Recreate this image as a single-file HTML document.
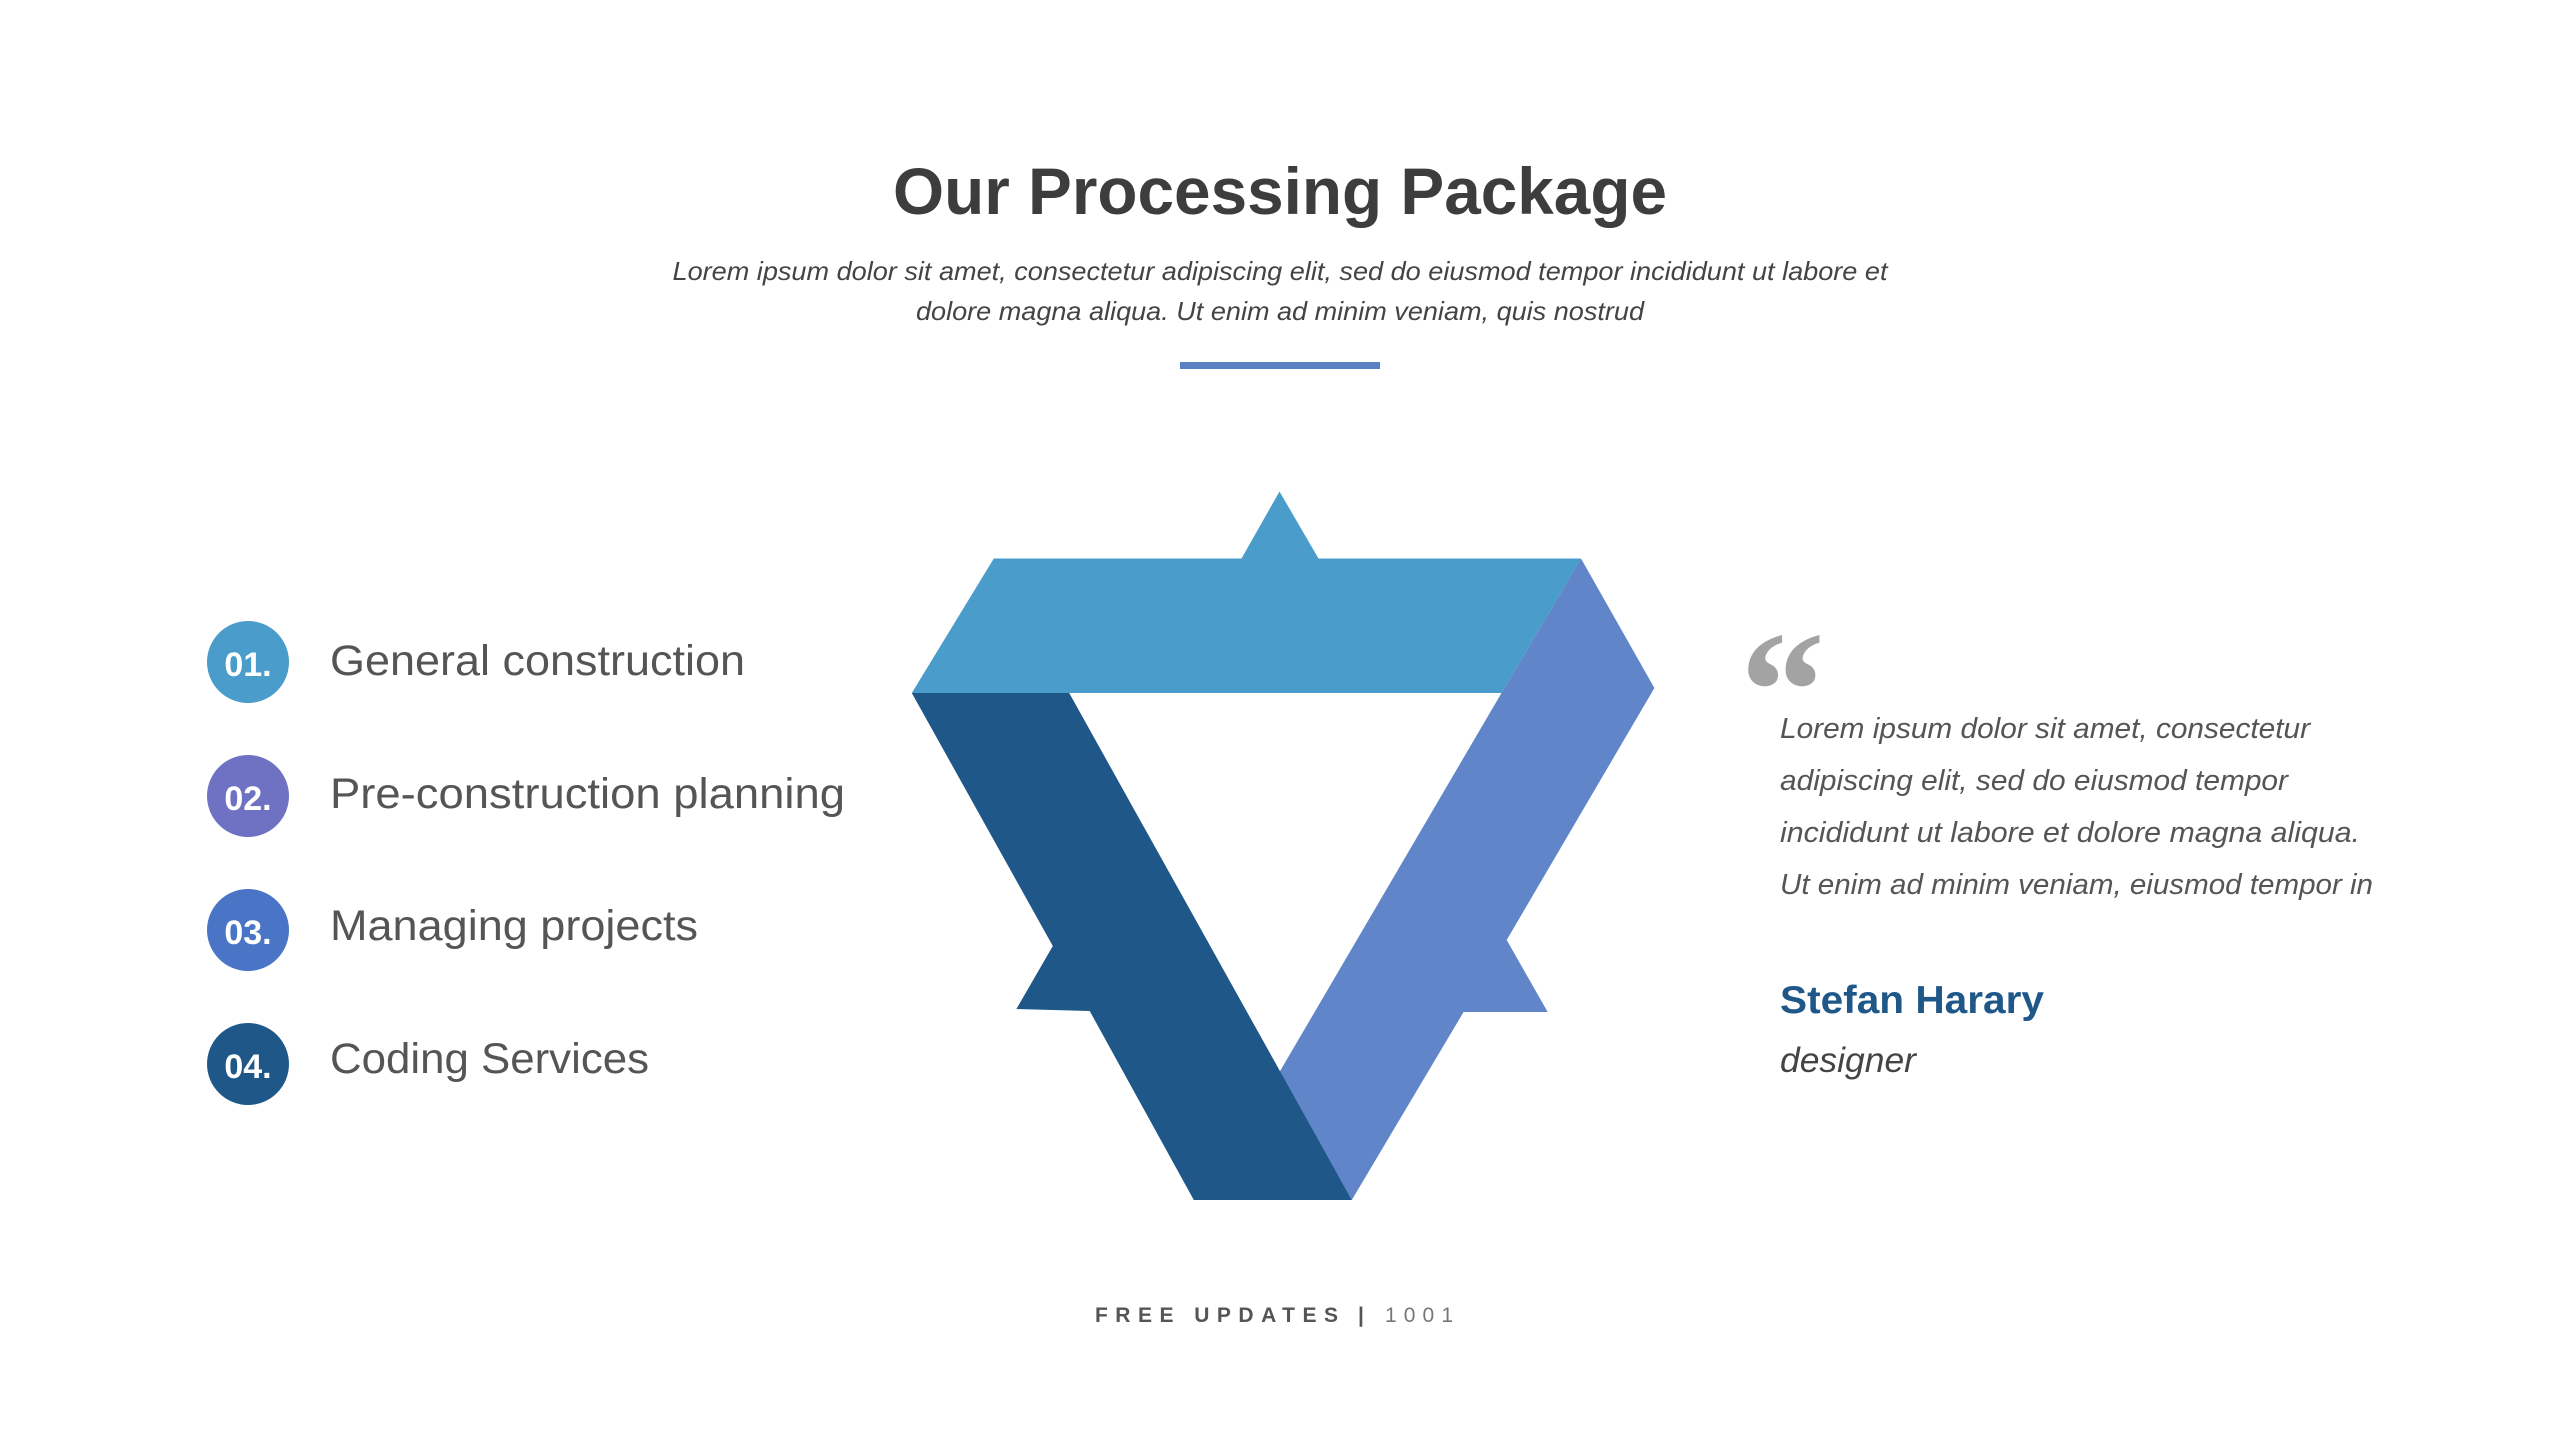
<!DOCTYPE html>
<html><head><meta charset="utf-8"><style>
html,body{margin:0;padding:0;background:#fff;}
svg{display:block;}
</style></head><body>
<svg width="2560" height="1440" viewBox="0 0 2560 1440" xmlns="http://www.w3.org/2000/svg" font-family="Liberation Sans, sans-serif">
<rect width="2560" height="1440" fill="#fff"/>
<text x="1280" y="214" text-anchor="middle" font-size="66" font-weight="bold" fill="#3d3d3d" textLength="774" lengthAdjust="spacingAndGlyphs">Our Processing Package</text>
<text x="1280" y="280" text-anchor="middle" font-size="26" font-style="italic" fill="#444" textLength="1215" lengthAdjust="spacingAndGlyphs">Lorem ipsum dolor sit amet, consectetur adipiscing elit, sed do eiusmod tempor incididunt ut labore et</text>
<text x="1280" y="320" text-anchor="middle" font-size="26" font-style="italic" fill="#444" textLength="728" lengthAdjust="spacingAndGlyphs">dolore magna aliqua. Ut enim ad minim veniam, quis nostrud</text>
<rect x="1180" y="362" width="200" height="7" fill="#5b80c4"/>

<polygon points="911.8,693 993.8,558.5 1241.5,558.5 1279.5,491.5 1318.5,558.5 1581,558.5 1501.5,693" fill="#4a9ccb"/>
<polygon points="1581,558.5 1654.4,688 1506.7,940 1547.7,1012 1463.6,1012 1351.8,1200 1279.5,1072 1501.5,693" fill="#6086c9"/>
<polygon points="911.8,693 1069.2,693 1351.8,1200 1193.8,1200 1089.7,1011 1016.4,1009 1052.8,946" fill="#1e5788"/>

<g font-weight="bold" font-size="34" fill="#fff" text-anchor="middle">
<circle cx="248" cy="662" r="41" fill="#4a9ccb"/><text x="248" y="676">01.</text>
<circle cx="248" cy="796" r="41" fill="#6f72c3"/><text x="248" y="810">02.</text>
<circle cx="248" cy="930" r="41" fill="#4a74c5"/><text x="248" y="944">03.</text>
<circle cx="248" cy="1064" r="41" fill="#1e5788"/><text x="248" y="1078">04.</text>
</g>
<g font-size="43" fill="#555">
<text x="330" y="675" textLength="415" lengthAdjust="spacingAndGlyphs">General construction</text>
<text x="330" y="808" textLength="515" lengthAdjust="spacingAndGlyphs">Pre-construction planning</text>
<text x="330" y="940" textLength="368" lengthAdjust="spacingAndGlyphs">Managing projects</text>
<text x="330" y="1073" textLength="319" lengthAdjust="spacingAndGlyphs">Coding Services</text>
</g>

<text x="1740" y="748" font-family="Liberation Serif, serif" font-size="170" font-weight="bold" fill="#a3a3a3">“</text>
<g font-size="29" font-style="italic" fill="#555">
<text x="1780" y="738" textLength="530" lengthAdjust="spacingAndGlyphs">Lorem ipsum dolor sit amet, consectetur</text>
<text x="1780" y="790" textLength="508" lengthAdjust="spacingAndGlyphs">adipiscing elit, sed do eiusmod tempor</text>
<text x="1780" y="842" textLength="580" lengthAdjust="spacingAndGlyphs">incididunt ut labore et dolore magna aliqua.</text>
<text x="1780" y="894" textLength="593" lengthAdjust="spacingAndGlyphs">Ut enim ad minim veniam, eiusmod tempor in</text>
</g>
<text x="1780" y="1013" font-size="39" font-weight="bold" fill="#1e5788" textLength="264" lengthAdjust="spacingAndGlyphs">Stefan Harary</text>
<text x="1780" y="1072" font-size="35" font-style="italic" fill="#444" textLength="136" lengthAdjust="spacingAndGlyphs">designer</text>

<text x="1095" y="1322" font-size="21" font-weight="bold" fill="#555" textLength="243" lengthAdjust="spacing">FREE UPDATES</text>
<text x="1358" y="1322" font-size="21" font-weight="bold" fill="#555">|</text>
<text x="1385" y="1322" font-size="21" fill="#777" textLength="68" lengthAdjust="spacing">1001</text>
</svg>
</body></html>
